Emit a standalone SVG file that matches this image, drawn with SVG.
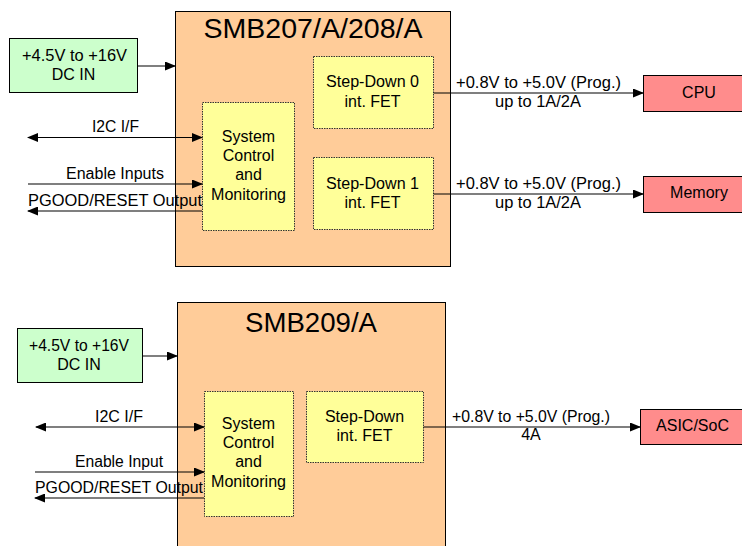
<svg xmlns="http://www.w3.org/2000/svg" width="742" height="546" viewBox="0 0 742 546">
<defs>
<marker id="ah" markerWidth="11" markerHeight="9" refX="10" refY="4.5" orient="auto-start-reverse" markerUnits="userSpaceOnUse">
<path d="M0,0 L11,4.5 L0,9 z" fill="#000"/>
</marker>
<style>
text{font-family:"Liberation Sans",Arial,sans-serif;font-size:16px;fill:#000;text-anchor:middle}
.title{font-size:27px}
.chip{fill:#FFCC99;stroke:#000;stroke-width:1}
.blk{fill:#FFFF99;stroke:#333;stroke-width:1;stroke-dasharray:1.5,1}
.src{fill:#CCFFCC;stroke:#000;stroke-width:1}
.load{fill:#FF8C8C;stroke:#000;stroke-width:1}
.wire{fill:none;stroke:#000;stroke-width:1.2}
</style>
</defs>
<rect width="742" height="546" fill="#fff"/>

<!-- Top device -->
<g id="chip1">
<rect class="chip" x="175.5" y="11.5" width="275" height="255"/>
<text class="title" x="313" y="38" textLength="219" lengthAdjust="spacingAndGlyphs">SMB207/A/208/A</text>
</g>
<g id="src1">
<rect class="src" x="9.5" y="38.5" width="128" height="54"/>
<text x="74.5" y="61" textLength="105" lengthAdjust="spacingAndGlyphs">+4.5V to +16V</text>
<text x="73.5" y="80">DC IN</text>
</g>
<g id="ctl1">
<rect class="blk" x="202.5" y="102.5" width="92" height="128"/>
<text x="248.5" y="142">System</text>
<text x="248.5" y="161">Control</text>
<text x="248.5" y="180">and</text>
<text x="248.5" y="200" textLength="75" lengthAdjust="spacingAndGlyphs">Monitoring</text>
</g>
<g id="sd0">
<rect class="blk" x="313.5" y="56.5" width="120" height="72"/>
<text x="372.5" y="87" textLength="93" lengthAdjust="spacingAndGlyphs">Step-Down 0</text>
<text x="372.5" y="107">int. FET</text>
</g>
<g id="sd1">
<rect class="blk" x="313.5" y="157.5" width="120" height="72"/>
<text x="372.5" y="189" textLength="93" lengthAdjust="spacingAndGlyphs">Step-Down 1</text>
<text x="372.5" y="208">int. FET</text>
</g>
<g id="cpu">
<rect class="load" x="643.5" y="75.5" width="110" height="36"/>
<text x="699" y="98">CPU</text>
</g>
<g id="mem">
<rect class="load" x="643.5" y="176.5" width="110" height="36"/>
<text x="699" y="198">Memory</text>
</g>

<!-- Bottom device -->
<g id="chip2">
<rect class="chip" x="177.5" y="302.5" width="268" height="260"/>
<text class="title" x="311" y="332" textLength="132" lengthAdjust="spacingAndGlyphs">SMB209/A</text>
</g>
<g id="src2">
<rect class="src" x="17.5" y="328.5" width="125" height="54"/>
<text x="79" y="351" textLength="100" lengthAdjust="spacingAndGlyphs">+4.5V to +16V</text>
<text x="79" y="370">DC IN</text>
</g>
<g id="ctl2">
<rect class="blk" x="204.5" y="391.5" width="89" height="125"/>
<text x="248.5" y="429">System</text>
<text x="248.5" y="448">Control</text>
<text x="248.5" y="467">and</text>
<text x="248.5" y="487" textLength="75" lengthAdjust="spacingAndGlyphs">Monitoring</text>
</g>
<g id="sd2">
<rect class="blk" x="306.5" y="391.5" width="117" height="71"/>
<text x="364.5" y="422">Step-Down</text>
<text x="364.5" y="441">int. FET</text>
</g>
<g id="asic">
<rect class="load" x="640.5" y="409.5" width="110" height="35"/>
<text x="692.5" y="431">ASIC/SoC</text>
</g>

<!-- Connectors -->
<g id="connectors">
<line class="wire" x1="137.5" y1="66" x2="175" y2="66" marker-end="url(#ah)"/>
<line class="wire" x1="28" y1="137.5" x2="202" y2="137.5" marker-start="url(#ah)" marker-end="url(#ah)"/>
<line class="wire" x1="28" y1="184" x2="202" y2="184" marker-end="url(#ah)"/>
<line class="wire" x1="202" y1="211" x2="28" y2="211" marker-end="url(#ah)"/>
<line class="wire" x1="433.5" y1="93" x2="643" y2="93" marker-end="url(#ah)"/>
<line class="wire" x1="433.5" y1="194" x2="643" y2="194" marker-end="url(#ah)"/>

<line class="wire" x1="142.5" y1="356" x2="177" y2="356" marker-end="url(#ah)"/>
<line class="wire" x1="36" y1="427" x2="204" y2="427" marker-start="url(#ah)" marker-end="url(#ah)"/>
<line class="wire" x1="35" y1="472" x2="204" y2="472" marker-end="url(#ah)"/>
<line class="wire" x1="204" y1="498" x2="35" y2="498" marker-end="url(#ah)"/>
<line class="wire" x1="423.5" y1="427" x2="640" y2="427" marker-end="url(#ah)"/>

<text x="115.5" y="132" textLength="47" lengthAdjust="spacingAndGlyphs">I2C I/F</text>
<text x="115" y="179" textLength="98" lengthAdjust="spacingAndGlyphs">Enable Inputs</text>
<text x="115" y="206" textLength="174" lengthAdjust="spacingAndGlyphs">PGOOD/RESET Output</text>
<text x="538.5" y="88" textLength="165" lengthAdjust="spacingAndGlyphs">+0.8V to +5.0V (Prog.)</text>
<text x="538" y="107" textLength="86" lengthAdjust="spacingAndGlyphs">up to 1A/2A</text>
<text x="538.5" y="189" textLength="165" lengthAdjust="spacingAndGlyphs">+0.8V to +5.0V (Prog.)</text>
<text x="538" y="208" textLength="86" lengthAdjust="spacingAndGlyphs">up to 1A/2A</text>

<text x="119" y="422" textLength="48" lengthAdjust="spacingAndGlyphs">I2C I/F</text>
<text x="119" y="467" textLength="88" lengthAdjust="spacingAndGlyphs">Enable Input</text>
<text x="119" y="493" textLength="168" lengthAdjust="spacingAndGlyphs">PGOOD/RESET Output</text>
<text x="531" y="422" textLength="158" lengthAdjust="spacingAndGlyphs">+0.8V to +5.0V (Prog.)</text>
<text x="531" y="440">4A</text>
</g>
</svg>
